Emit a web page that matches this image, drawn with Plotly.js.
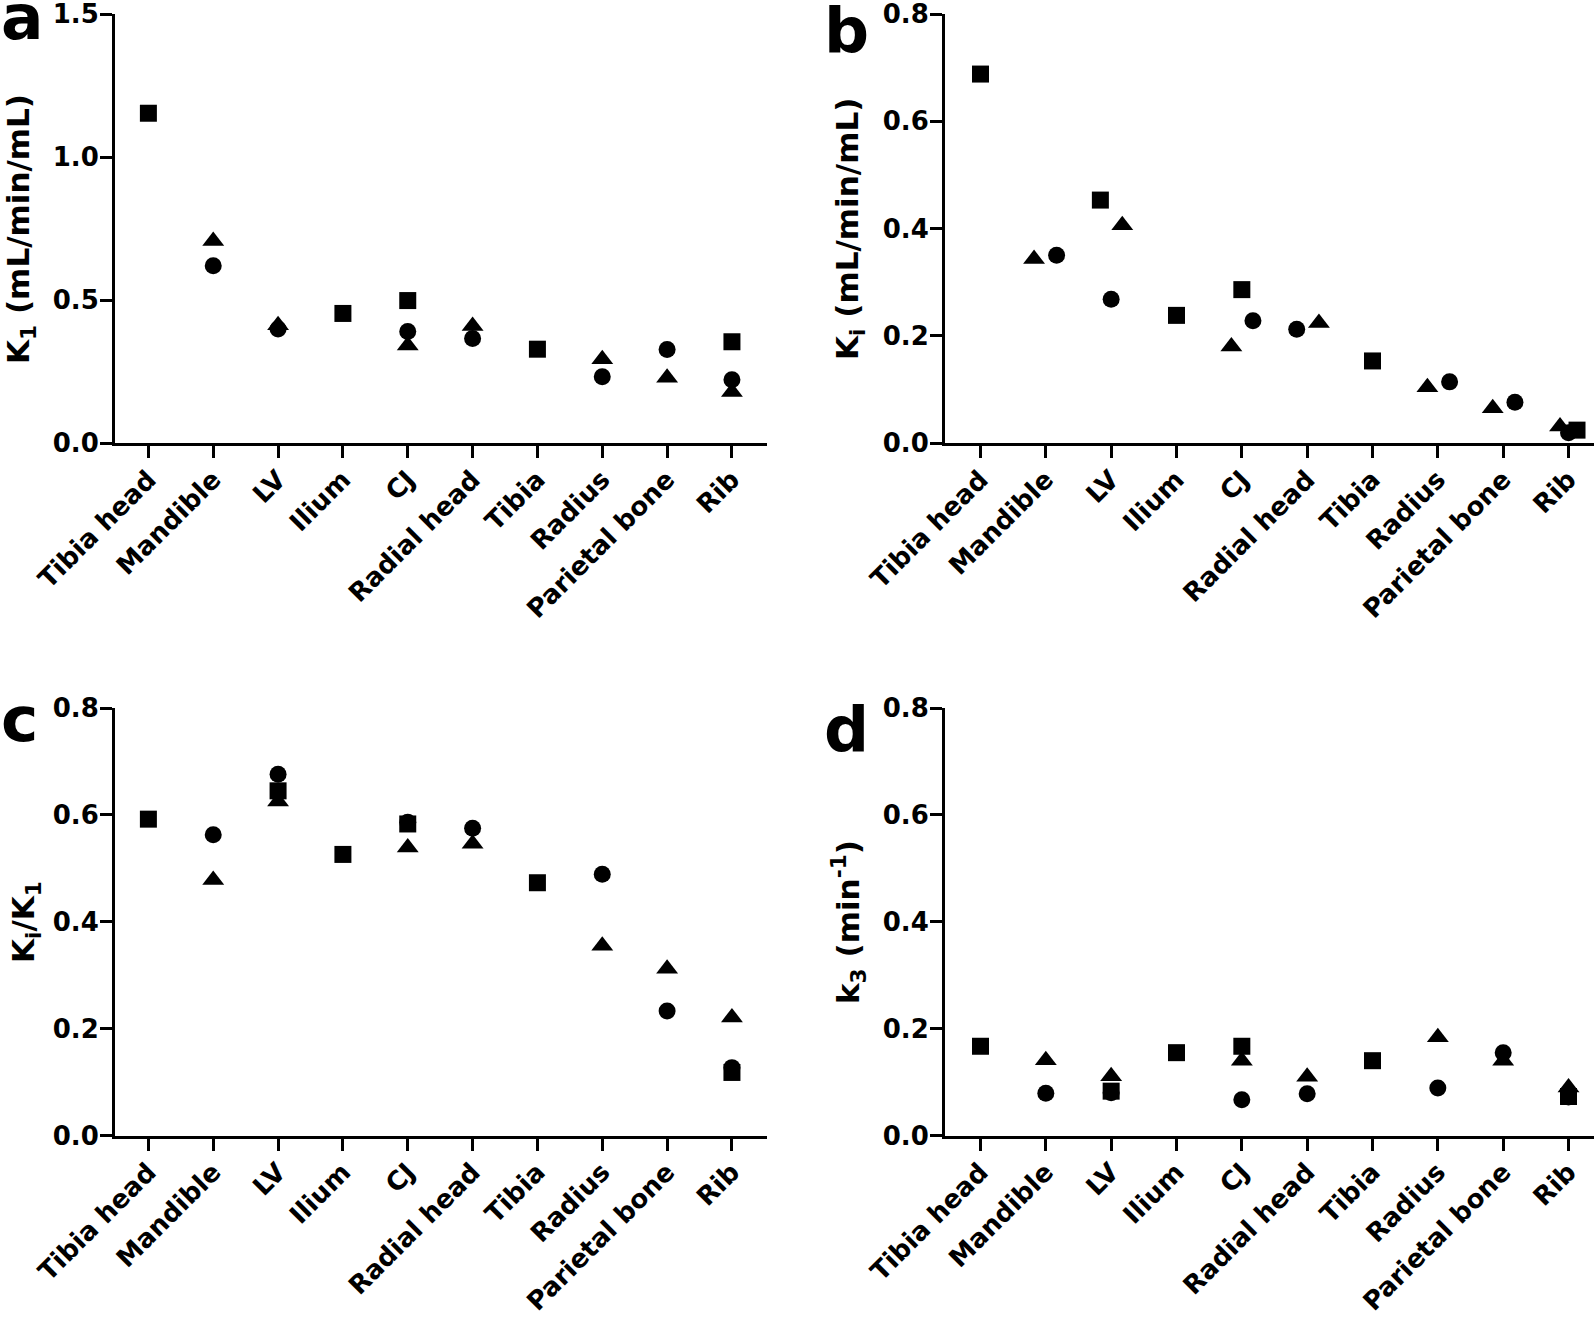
<!DOCTYPE html>
<html><head><meta charset="utf-8">
<script src="https://cdn.plot.ly/plotly-3.0.1.min.js"></script>
<style>html,body{margin:0;padding:0;background:#fff}#chart{width:1594px;height:1321px}</style>
</head><body><div id="chart"></div>
<script>
// ---------- data ----------
const categories = ["Tibia head","Mandible","LV","Ilium","CJ","Radial head","Tibia","Radius","Parietal bone","Rib"];

// panel a: K1 (mL/min/mL)
const aSquare   = [1.153, null, null, 0.453, 0.498, null, 0.328, null, null, 0.354];
const aCircle   = [null, 0.620, 0.399, null, 0.390, 0.365, null, 0.232, 0.327, 0.221];
const aTriangle = [null, 0.706, 0.412, null, 0.341, 0.409, null, 0.293, 0.228, 0.178];

// panel b: Ki (mL/min/mL)
const bSquare   = [0.688, null, 0.453, 0.238, 0.286, null, 0.153, null, null, 0.024];
const bCircle   = [null, 0.350, 0.268, null, 0.228, 0.212, null, 0.114, 0.076, 0.019];
const bTriangle = [null, 0.343, 0.406, null, 0.180, 0.224, null, 0.104, 0.065, 0.031];
// horizontal nudges used in panel b to separate overlapping symbols
const bSquareNudge   = [0, 0, -0.165, 0, 0, 0, 0, 0, 0, 0.13];
const bCircleNudge   = [0, 0.165, 0, 0, 0.17, -0.16, 0, 0.18, 0.18, 0];
const bTriangleNudge = [0, -0.18, 0.17, 0, -0.16, 0.18, 0, -0.16, -0.16, -0.13];

// panel c: Ki/K1
const cSquare   = [0.592, null, 0.645, 0.526, 0.583, null, 0.473, null, null, 0.118];
const cCircle   = [null, 0.563, 0.676, null, 0.586, 0.575, null, 0.489, 0.233, 0.127];
const cTriangle = [null, 0.478, 0.625, null, 0.539, 0.546, null, 0.355, 0.312, 0.221];

// panel d: k3 (min^-1)
const dSquare   = [0.167, null, 0.083, 0.155, 0.167, null, 0.140, null, null, 0.073];
const dCircle   = [null, 0.079, 0.080, null, 0.067, 0.078, null, 0.089, 0.155, 0.072];
const dTriangle = [null, 0.141, 0.111, null, 0.140, 0.110, null, 0.184, 0.140, 0.090];

const yTicksA = [0, 0.5, 1.0, 1.5];
const yTicksB = [0, 0.2, 0.4, 0.6, 0.8];

// ---------- helpers ----------
const W = 1594, H = 1321;
const px = v => v / W;
const py = v => 1 - v / H;
const idx = categories.map((_, i) => i);
const zeros = categories.map(() => 0);

function series(vals, nudge, symbol, size, xa, ya) {
  return {
    type: 'scatter', mode: 'markers',
    x: idx.map((i) => i + nudge[i]), y: vals,
    xaxis: xa, yaxis: ya, cliponaxis: false, showlegend: false,
    marker: {symbol: symbol, size: size, color: '#000', line: {width: 0}},
    hoverinfo: 'skip'
  };
}
function panel(sq, ci, tr, nudges, xa, ya) {
  const n = nudges || [zeros, zeros, zeros];
  return [
    series(tr, n[2], 'triangle-up', 19, xa, ya),
    series(ci, n[1], 'circle', 17, xa, ya),
    series(sq, n[0], 'square', 17, xa, ya)
  ];
}

const data = [].concat(
  panel(aSquare, aCircle, aTriangle, null, 'x', 'y'),
  panel(bSquare, bCircle, bTriangle, [bSquareNudge, bCircleNudge, bTriangleNudge], 'x2', 'y2'),
  panel(cSquare, cCircle, cTriangle, null, 'x3', 'y3'),
  panel(dSquare, dCircle, dTriangle, null, 'x4', 'y4')
);

const FONT = 'DejaVu Sans';
function xAxis(domain, range, anchor) {
  return {
    domain: domain, range: range, anchor: anchor,
    tickmode: 'array', tickvals: idx, ticktext: categories, tickangle: -45,
    ticks: 'outside', ticklen: 12, tickwidth: 3, tickcolor: '#000',
    showline: true, linewidth: 3, linecolor: '#000',
    showgrid: false, zeroline: false, fixedrange: true,
    ticklabeloverflow: 'allow', ticklabelstandoff: -4,
    tickfont: {family: FONT, size: 26, color: '#000', weight: 'bold'}
  };
}
function yAxis(domain, range, ticks, anchor) {
  return {
    domain: domain, range: range, anchor: anchor,
    tickmode: 'array', tickvals: ticks, tickformat: '.1f',
    ticks: 'outside', ticklen: 12, tickwidth: 3, tickcolor: '#000',
    showline: true, linewidth: 3, linecolor: '#000',
    showgrid: false, zeroline: false, fixedrange: true,
    ticklabeloverflow: 'allow', ticklabelstandoff: -4,
    tickfont: {family: FONT, size: 26, color: '#000', weight: 'bold'}
  };
}

const leftX  = [px(115), px(766.5)];
const rightX = [px(945), 1];
const topY   = [py(443), py(14)];
const botY   = [py(1135.5), py(708)];
const rangeL = [-0.515, 9.533];
const rangeR = [-0.543, 9.39];

function title(text, x, y) {
  return {text: text, xref: 'paper', yref: 'paper', x: px(x), y: py(y),
    xanchor: 'center', yanchor: 'middle', textangle: -90, showarrow: false,
    font: {family: FONT, size: 31, color: '#000', weight: 'bold'}};
}
function letter(text, x, y) {
  return {text: text, xref: 'paper', yref: 'paper', x: px(x), y: py(y),
    xanchor: 'left', yanchor: 'bottom', showarrow: false,
    font: {family: FONT, size: 63, color: '#000', weight: 'bold'}};
}

const layout = {
  width: W, height: H, margin: {l: 0, r: 0, t: 0, b: 0},
  paper_bgcolor: '#fff', plot_bgcolor: '#fff', showlegend: false,
  xaxis:  xAxis(leftX, rangeL, 'y'),
  yaxis:  yAxis(topY, [0, 1.5], yTicksA, 'x'),
  xaxis2: xAxis(rightX, rangeR, 'y2'),
  yaxis2: yAxis(topY, [0, 0.8], yTicksB, 'x2'),
  xaxis3: xAxis(leftX, rangeL, 'y3'),
  yaxis3: yAxis(botY, [0, 0.8], yTicksB, 'x3'),
  xaxis4: xAxis(rightX, rangeR, 'y4'),
  yaxis4: yAxis(botY, [0, 0.8], yTicksB, 'x4'),
  annotations: [
    title('K<sub>1</sub> (mL/min/mL)', 21, 229),
    title('K<sub>i</sub> (mL/min/mL)', 850, 229),
    title('K<sub>i</sub>/K<sub>1</sub>', 25, 922),
    title('k<sub>3</sub> (min<sup>-1</sup>)', 848, 922),
    letter('a', -1, 56),
    letter('b', 822, 69),
    letter('c', -1, 758),
    letter('d', 822, 768)
  ]
};

Plotly.newPlot('chart', data, layout, {staticPlot: true, displayModeBar: false});
</script></body></html>
